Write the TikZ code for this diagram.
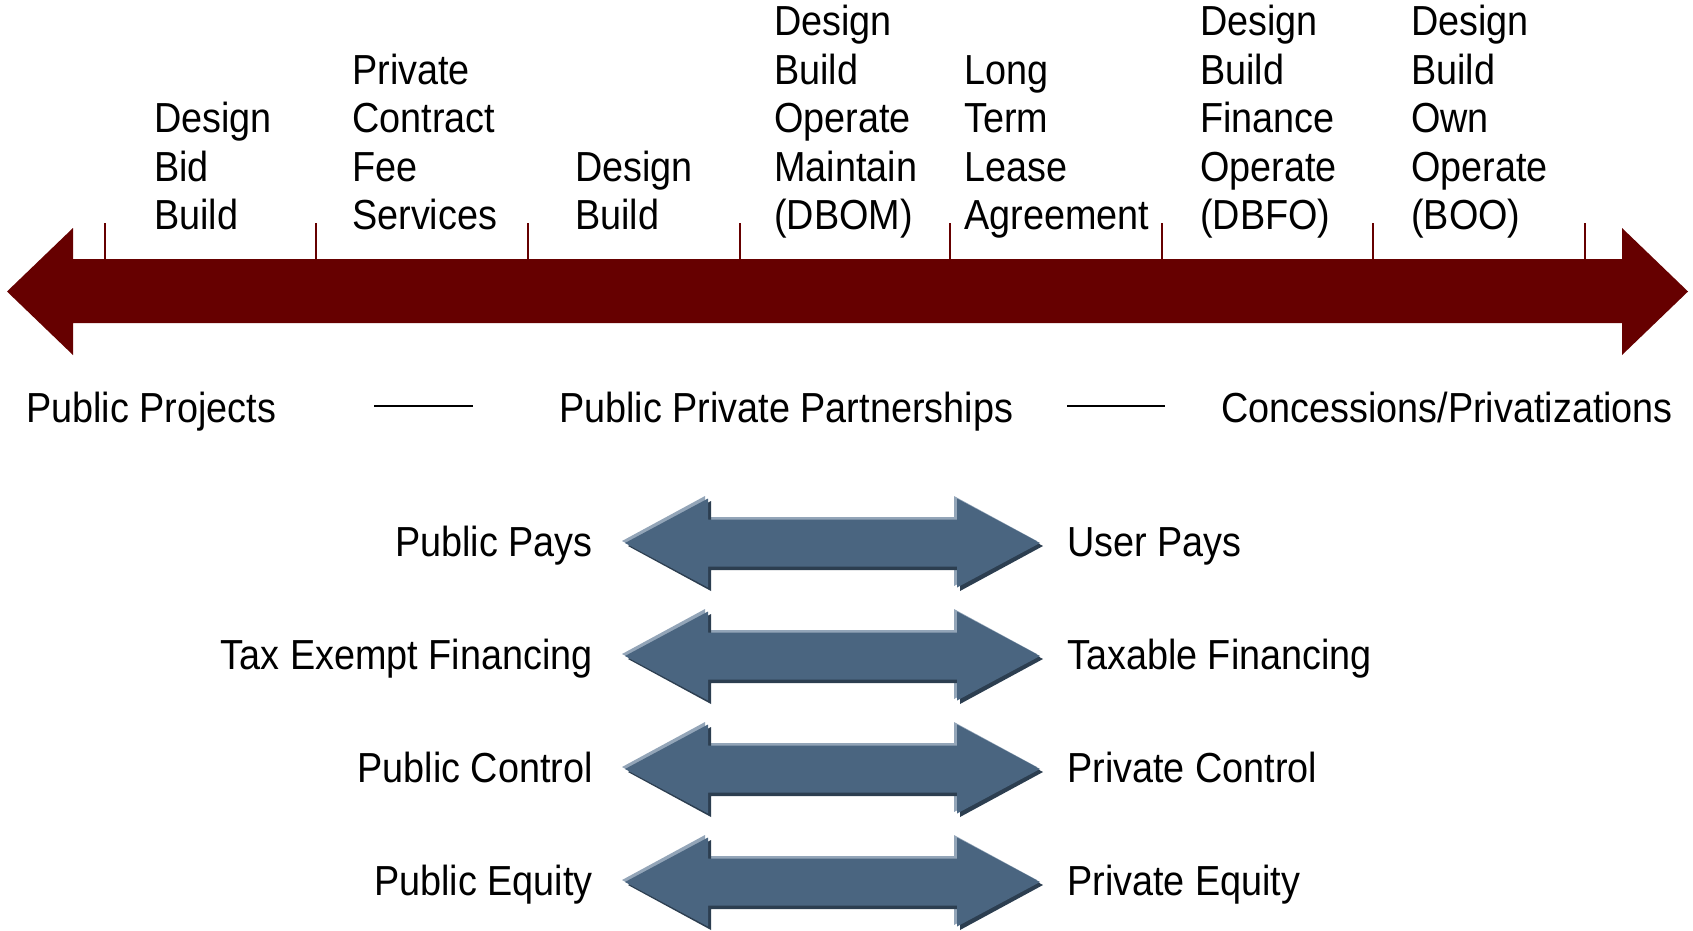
\documentclass[tikz,border=0pt]{standalone}
\usepackage{fontspec}
\setmainfont{Liberation Sans}[FakeStretch=0.9]
\definecolor{bigred}{HTML}{660000}
\definecolor{steel}{HTML}{4A6580}
\definecolor{steeldark}{HTML}{2C3E50}
\definecolor{steellight}{HTML}{93A5B8}
\tikzset{
  lbl/.style={inner sep=0pt, font=\fontsize{42}{48.6}\selectfont},
  col/.style={lbl, align=left, anchor=south west, text depth=0pt},
  tickmark/.style={draw=bigred, line width=2pt},
  dashline/.style={draw=black, line width=1.6pt},
}
\begin{document}
\begin{tikzpicture}[x=1pt,y=-1pt]
\useasboundingbox (0,0) rectangle (1693,930);
% big arrow
\fill[bigred] (7,291.5) -- (73,228) -- (73,259) -- (1622,259) -- (1622,228) -- (1688,291.5) -- (1622,355) -- (1622,323) -- (73,323) -- (73,355) -- cycle;
\foreach \x in {105,316,528,740,950,1162,1373,1585}
  \draw[tickmark] (\x,223) -- (\x,259);
% column labels
\node[col] (c1) at (154,230) {Design\\Bid\\Build};
\node[col] (c2) at (352,230) {Private\\Contract\\Fee\\Services};
\node[col] (c3) at (575,230) {Design\\Build};
\node[col] (c4) at (774,230) {Design\\Build\\Operate\\Maintain\\(DBOM)};
\node[col] (c5) at (964,230) {Long\\Term\\Lease\\Agreement};
\node[col] (c6) at (1200,230) {Design\\Build\\Finance\\Operate\\(DBFO)};
\node[col] (c7) at (1411,230) {Design\\Build\\Own\\Operate\\(BOO)};
% middle row
\node[lbl, anchor=base west] (m1) at (26,422) {Public Projects};
\node[lbl, anchor=base west] (m2) at (559,422) {Public Private Partnerships};
\node[lbl, anchor=base west] (m3) at (1221,422) {Concessions/Privatizations};
\coordinate (d1a) at (374,406); \coordinate (d1b) at (473,406);
\coordinate (d2a) at (1067,406); \coordinate (d2b) at (1165,406);
\draw[dashline] (d1a) -- (d1b);
\draw[dashline] (d2a) -- (d2b);
% blue double arrows
\foreach \y/\l/\r [count=\i] in {543/Public Pays/User Pays, 656/Tax Exempt Financing/Taxable Financing, 769/Public Control/Private Control, 882/Public Equity/Private Equity}{
  \begin{scope}[shift={(0,\y)}]
    \fill[steellight] (622,-2) -- (705,-47) -- (705,-26) -- (954,-26) -- (954,-47) -- (1037,-2) -- (954,43) -- (954,22) -- (705,22) -- (705,43) -- cycle;
    \fill[steeldark] (628,3) -- (711,-42) -- (711,-21) -- (960,-21) -- (960,-42) -- (1043,3) -- (960,48) -- (960,27) -- (711,27) -- (711,48) -- cycle;
    \fill[steel] (625,0) -- (708,-44.5) -- (708,-23.5) -- (957,-23.5) -- (957,-44.5) -- (1040,0) -- (957,44.5) -- (957,23.5) -- (708,23.5) -- (708,44.5) -- cycle;
  \end{scope}
  \node[lbl, anchor=base east] (l\i) at (593,\y+13) {\l};
  \node[lbl, anchor=base west] (r\i) at (1067,\y+13) {\r};
}
\end{tikzpicture}
\end{document}
